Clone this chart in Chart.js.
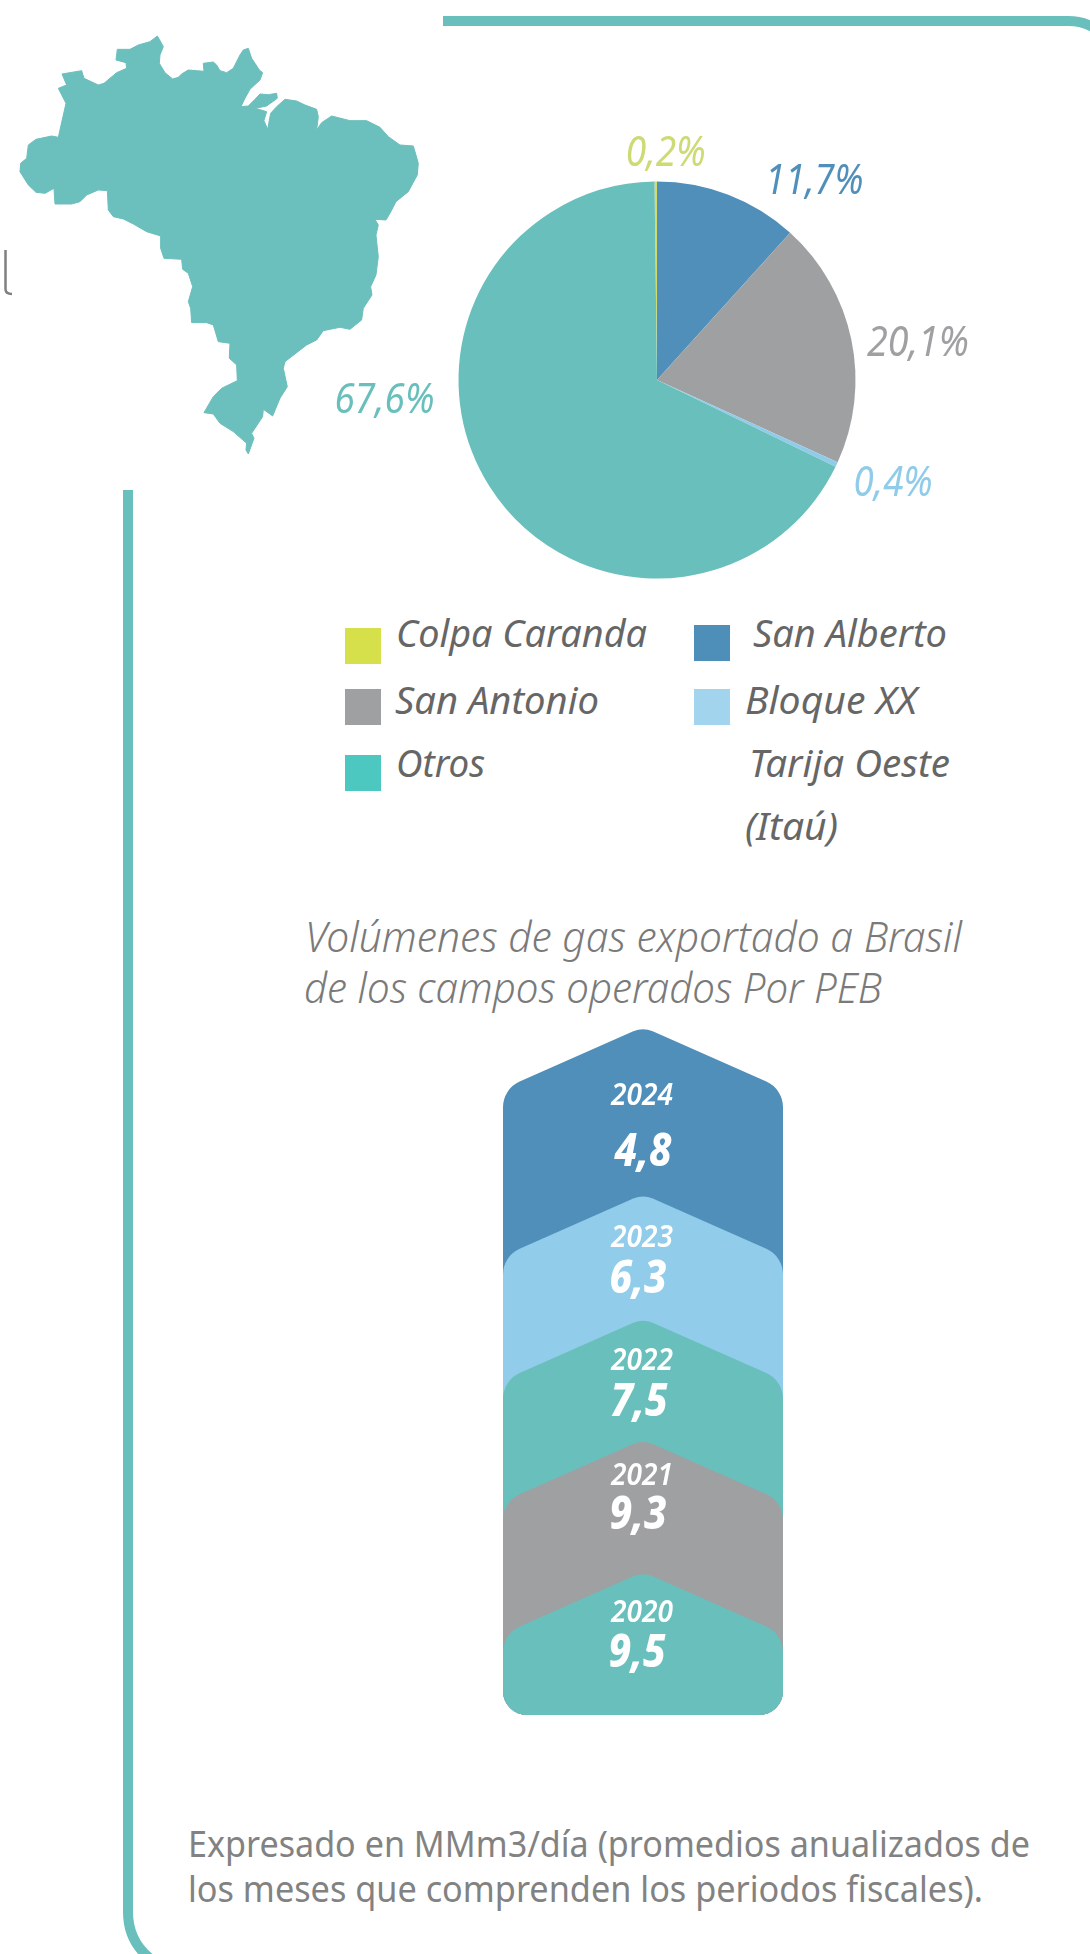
<!DOCTYPE html>
<html>
<head>
<meta charset="utf-8">
<title>Volúmenes de gas exportado a Brasil</title>
<script src="https://cdn.jsdelivr.net/npm/chart.js@4/dist/chart.umd.min.js"></script>
<style>
  html, body { margin: 0; padding: 0; background: #fff; }
  #page { position: relative; width: 1090px; height: 1954px; overflow: hidden; }
  #page svg, #page canvas { position: absolute; }
  #deco { left: 0; top: 0; }
  #pieChart { left: 257px; top: 100px; }
  #arrowChart { left: 500px; top: 1028px; }
</style>
</head>
<body>
<div id="page">
  <svg id="deco" width="1090" height="1954" xmlns="http://www.w3.org/2000/svg">
    <!-- frame lines -->
    <path d="M443,21 H1068 Q1084,21 1096,29" fill="none" stroke="#69BFBC" stroke-width="10"/>
    <path d="M128,490 V1912 Q128,1942 152,1960" fill="none" stroke="#69BFBC" stroke-width="10"/>
    <!-- cut off letter on the left edge -->
    <path d="M5.5,250 V289 Q5.5,294 12,294" fill="none" stroke="#808080" stroke-width="2.5"/>
    <!-- Brazil silhouette, traced at 3x -->
    <path transform="scale(0.3333)" fill="#6BBFBD" stroke="#6BBFBD" stroke-width="3" stroke-linejoin="round" d="M472,108 L478,118 490,140 480,165 478,190 495,218 518,237 535,232 545,222 565,210 590,212 612,214 610,190 640,186 650,195 660,212 680,218 700,205 720,165 730,150 745,145 755,175 765,190 778,210 788,218 780,240 750,268 735,295 723,320 745,318 765,298 780,282 805,284 830,280 832,295 800,318 766,325 800,335 792,362 803,388 812,340 830,320 855,298 890,303 915,315 950,328 955,350 950,390 965,368 995,348 1050,362 1100,362 1140,382 1165,410 1200,435 1240,438 1248,465 1255,490 1252,525 1225,575 1188,605 1170,640 1158,660 1125,658 1135,675 1128,705 1135,770 1128,825 1112,860 1116,885 1090,925 1085,960 1050,988 1020,982 970,992 950,1020 920,1035 855,1085 850,1105 862,1160 840,1195 818,1248 790,1228 788,1250 755,1300 762,1315 745,1362 738,1350 740,1330 700,1295 660,1270 640,1242 612,1238 640,1190 665,1165 712,1142 710,1095 688,1075 690,1030 655,1025 640,975 620,968 575,968 572,925 565,905 578,860 565,820 548,808 545,778 492,775 482,745 482,708 440,695 400,672 370,657 340,650 325,630 322,572 295,570 260,585 240,605 215,612 165,612 162,565 135,580 108,577 85,555 60,515 62,490 80,475 85,435 108,418 155,408 175,412 198,310 175,265 200,255 186,222 245,212 252,235 295,255 312,250 350,218 380,205 378,188 348,180 352,148 390,148 415,135 450,125 Z"/>
  </svg>
  <canvas id="pieChart" width="800" height="560"></canvas>
  <canvas id="arrowChart" width="286" height="689"></canvas>
</div>

<script>
// gas fields and their share (%)
const fields = ['Colpa Caranda', 'San Alberto', 'San Antonio', 'Bloque XX', 'Otros'];
const shares = [0.2, 11.7, 20.1, 0.4, 67.6];

// exported volumes, MMm3/day
const years = ['2024', '2023', '2022', '2021', '2020'];
const volumes = [4.8, 6.3, 7.5, 9.3, 9.5];

const titleLines = ['Volúmenes de gas exportado a Brasil', 'de los campos operados Por PEB'];
const noteLines = ['Expresado en MMm3/día (promedios anualizados de', 'los meses que comprenden los periodos fiscales).'];
const extraLegend = ['Tarija Oeste', '(Itaú)'];

const FONT = '"Noto Sans", sans-serif';
const sliceColors = ['#D2DC6A', '#4F8FBA', '#9FA0A2', '#90CCEA', '#69BFBC'];
const labelColors = ['#CEDA74', '#4F8FBA', '#9FA0A2', '#90CCEA', '#69BFBC'];
const swatchColors = ['#D6E04A', '#4E8FB9', '#9FA0A2', '#A3D4EE', '#4DC8C0'];
const arrowColors = ['#4F8FBA', '#91CDEA', '#69BFBC', '#9FA0A2', '#69BFBC'];

function comma(v, suffix) {
    return v.toFixed(1).replace('.', ',') + (suffix || '');
}

// text squeezed to a given width, the original face is a narrow one
function fitText(ctx, text, cx, baseline, width) {
    let w = ctx.measureText(text).width;
    ctx.save();
    ctx.translate(cx, baseline);
    ctx.scale(width / w, 1);
    ctx.textAlign = 'center';
    ctx.textBaseline = 'alphabetic';
    ctx.fillText(text, 0, 0);
    ctx.restore();
}

// ---- svg text ----
const svg = document.getElementById('deco');
function addText(text, x, y, width, size, fill, italic, weight) {
    let t = document.createElementNS('http://www.w3.org/2000/svg', 'text');
    t.textContent = text;
    t.setAttribute('x', x);
    t.setAttribute('y', y);
    t.setAttribute('textLength', width);
    t.setAttribute('lengthAdjust', 'spacingAndGlyphs');
    t.setAttribute('font-family', FONT);
    t.setAttribute('font-size', size);
    t.setAttribute('fill', fill);
    if (italic) t.setAttribute('font-style', 'italic');
    if (weight) t.setAttribute('font-weight', weight);
    svg.appendChild(t);
}
function addSwatch(x, y, color) {
    let r = document.createElementNS('http://www.w3.org/2000/svg', 'rect');
    r.setAttribute('x', x);
    r.setAttribute('y', y);
    r.setAttribute('width', 36);
    r.setAttribute('height', 36);
    r.setAttribute('fill', color);
    svg.appendChild(r);
}

// legend layout: swatch x, swatch y, text x, baseline, text width
const legendSpots = [
    [345, 628, 396, 647, 251],
    [694, 625, 753, 647, 194],
    [345, 689, 395, 714, 204],
    [694, 689, 745, 714, 172],
    [345, 755, 396, 777, 89]
];
fields.forEach((name, i) => {
    let s = legendSpots[i];
    addSwatch(s[0], s[1], swatchColors[i]);
    addText(name, s[2], s[3], s[4], 39, '#666666', true);
});
addText(extraLegend[0], 749, 777, 201, 39, '#666666', true);
addText(extraLegend[1], 745, 840, 93, 39, '#666666', true);

addText(titleLines[0], 305, 952, 657, 43, '#7A7A7A', true, 300);
addText(titleLines[1], 304, 1003, 578, 43, '#7A7A7A', true, 300);

addText(noteLines[0], 188, 1857, 842, 37, '#828282', false);
addText(noteLines[1], 188, 1902, 795, 37, '#828282', false);

// ---- pie ----
// label centre relative to the middle of each slice's outer edge, and label width
const pieLabelOffset = [[10, -15.5, 80], [86, -1, 98], [66.5, 16, 102], [56.5, 31, 79], [-105, -73.6, 100]];

const pieLabels = {
    id: 'pieLabels',
    afterDatasetsDraw(chart) {
        let ctx = chart.ctx;
        chart.getDatasetMeta(0).data.forEach((arc, i) => {
            let mid = (arc.startAngle + arc.endAngle) / 2;
            let x = arc.x + Math.cos(mid) * arc.outerRadius + pieLabelOffset[i][0];
            let y = arc.y + Math.sin(mid) * arc.outerRadius + pieLabelOffset[i][1];
            ctx.save();
            ctx.font = 'italic 400 41px ' + FONT;
            ctx.fillStyle = labelColors[i];
            fitText(ctx, comma(shares[i], '%'), x, y, pieLabelOffset[i][2]);
            ctx.restore();
        });
    }
};

new Chart(document.getElementById('pieChart'), {
    type: 'pie',
    data: {
        labels: fields,
        datasets: [{
            data: shares,
            backgroundColor: sliceColors,
            borderWidth: 0,
            radius: 198.5
        }]
    },
    options: {
        responsive: false,
        animation: false,
        rotation: -0.72,
        plugins: { legend: { display: false }, tooltip: { enabled: false } }
    },
    plugins: [pieLabels]
});

// ---- stacked arrows ----
// arrows sit on the year axis, with small shifts since the original spacing is uneven
const arrowShift = [0, 31, 19, 4, 0];
// offsets below the apex: year baseline, value baseline, value centre x shift
const arrowText = [[75, 136, 0], [50, 96, -5], [48, 94, -4], [42, 86, -5], [47, 92, -6]];
const SHOULDER = 62;
const APEX_RISE = 3;

function arrowPath(ctx, left, right, apexY, bottom, round) {
    let mid = (left + right) / 2;
    let tip = apexY - APEX_RISE;
    ctx.beginPath();
    ctx.moveTo(left, bottom - round);
    ctx.arcTo(left, tip + SHOULDER, mid, tip, 28);
    ctx.arcTo(mid, tip, right, tip + SHOULDER, 24);
    ctx.arcTo(right, tip + SHOULDER, right, bottom, 28);
    ctx.lineTo(right, bottom - round);
    ctx.arcTo(right, bottom, right - round, bottom, round);
    ctx.lineTo(left + round, bottom);
    ctx.arcTo(left, bottom, left, bottom - round, round);
    ctx.closePath();
}

const arrowBars = {
    id: 'arrowBars',
    beforeDatasetDraw(chart) {
        let ctx = chart.ctx;
        let area = chart.chartArea;
        let bottom = chart.height - 2;
        let mid = (area.left + area.right) / 2;
        chart.getDatasetMeta(0).data.forEach((bar, i) => {
            let apexY = bar.y + arrowShift[i];
            ctx.save();
            ctx.fillStyle = bar.options.backgroundColor;
            arrowPath(ctx, area.left, area.right, apexY, bottom, 24);
            ctx.fill();
            ctx.fillStyle = '#FFFFFF';
            ctx.font = 'italic 600 31px ' + FONT;
            fitText(ctx, years[i], mid - 1, apexY + arrowText[i][0], 62);
            ctx.font = 'italic 800 46px ' + FONT;
            fitText(ctx, comma(volumes[i]), mid + arrowText[i][2], apexY + arrowText[i][1], 57);
            ctx.restore();
        });
        return false;
    }
};

new Chart(document.getElementById('arrowChart'), {
    type: 'bar',
    data: {
        labels: years,
        datasets: [{ data: volumes, backgroundColor: arrowColors }]
    },
    options: {
        indexAxis: 'y',
        responsive: false,
        animation: false,
        layout: { padding: { top: 2, bottom: 142, left: 3, right: 3 } },
        scales: {
            x: { display: false, min: 0, max: 10 },
            y: { display: false, offset: false }
        },
        plugins: { legend: { display: false }, tooltip: { enabled: false } }
    },
    plugins: [arrowBars]
});
</script>
</body>
</html>
